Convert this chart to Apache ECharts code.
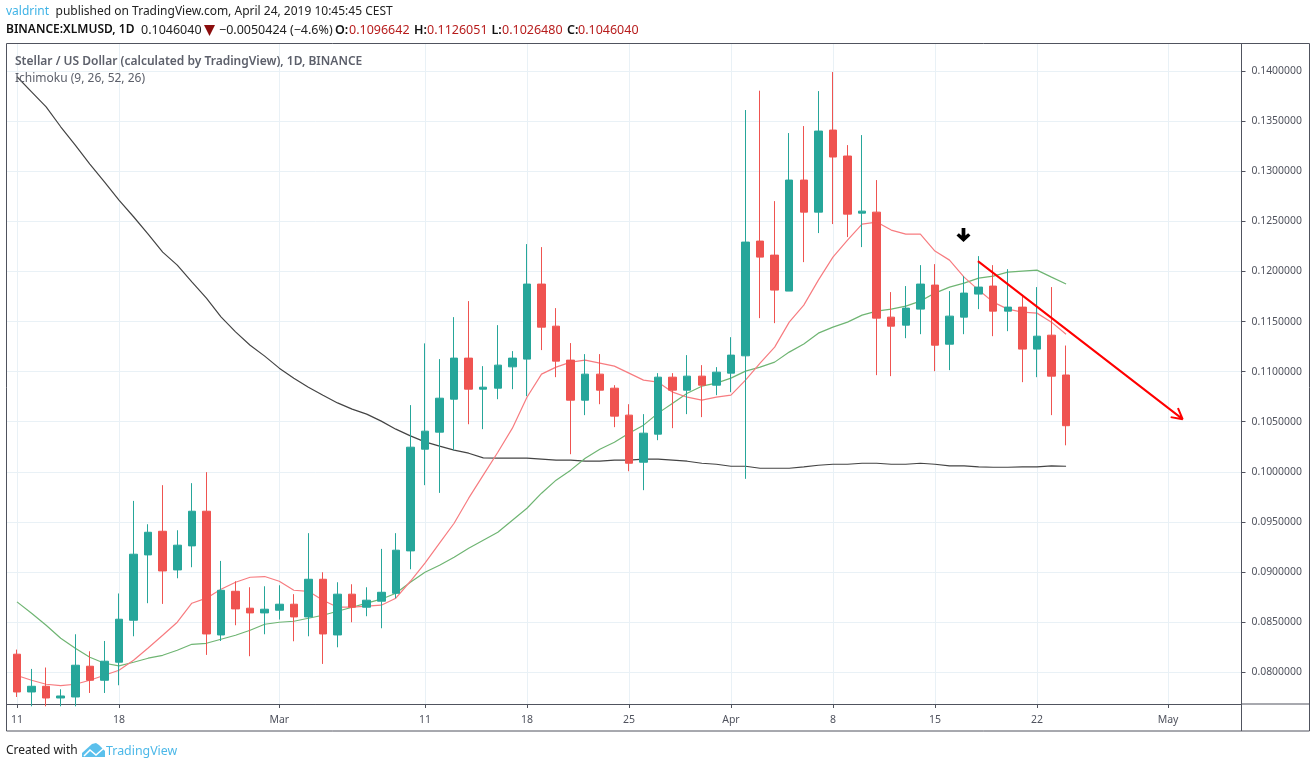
<!DOCTYPE html>
<html>
<head>
<meta charset="utf-8">
<title>XLMUSD</title>
<script src="https://cdn.jsdelivr.net/npm/echarts@6/dist/echarts.min.js"></script>
<style>
html,body{margin:0;padding:0;background:#fff;}
#chart{width:1316px;height:768px;}
</style>
</head>
<body>
<div id="chart"></div>
<script>
// x values are days counted from Feb 11 (day 0)
var xTickDays = [0, 7, 18, 28, 35, 42, 49, 56, 63, 70, 79];
var xTickLabels = ['11', '18', 'Mar', '11', '18', '25', 'Apr', '8', '15', '22', 'May'];
var yTicks = [0.08, 0.085, 0.09, 0.095, 0.1, 0.105, 0.11, 0.115, 0.12, 0.125, 0.13, 0.135, 0.14];

var opens = [.08180,.07803,.07860,.07743,.07753,.08060,.07920,.08100,.08519,.09171,.09407,.09021,.09261,.09607,.08372,.08808,.08639,.08592,.08619,.08679,.08552,.08928,.08372,.08779,.08649,.08709,.08788,.09211,.10226,.10396,.10725,.11135,.10825,.10835,.11048,.11125,.11874,.11454,.11115,.10715,.10975,.10835,.10566,.10096,.10376,.10945,.10815,.10955,.10865,.10985,.11158,.12303,.12163,.11804,.12912,.12592,.13411,.13152,.12582,.12592,.11544,.11464,.11624,.11864,.11274,.11544,.11774,.11854,.11604,.11644,.11225,.11364,.1096642];
var closes = [.07803,.07860,.07743,.07763,.08070,.07920,.08110,.08529,.09178,.09397,.09011,.09268,.09607,.08382,.08818,.08632,.08592,.08629,.08679,.08552,.08928,.08382,.08779,.08649,.08719,.08798,.09218,.10246,.10406,.10735,.11135,.10825,.10845,.11065,.11135,.11874,.11444,.11105,.10715,.10975,.10815,.10556,.10086,.10386,.10945,.10815,.10955,.10865,.10995,.11165,.12293,.12143,.11814,.12912,.12592,.13401,.13142,.12572,.12602,.11534,.11454,.11634,.11874,.11264,.11554,.11784,.11844,.11604,.11644,.11225,.11354,.10955,.104604];
var lows = [.07753,.07660,.07660,.07660,.07660,.07793,.07793,.07870,.08359,.08689,.08682,.08938,.09048,.08173,.08312,.08469,.08160,.08379,.08526,.08309,.08359,.08083,.08249,.08499,.08559,.08439,.08739,.09028,.09867,.09790,.10216,.10475,.10426,.10725,.10825,.10755,.11215,.10945,.10176,.10566,.10675,.10446,.10006,.09817,.10316,.10436,.10576,.10546,.10765,.10795,.09930,.11534,.11484,.11804,.12093,.12383,.12473,.12343,.12243,.10965,.10955,.11334,.11374,.11005,.11015,.11374,.11624,.11354,.11404,.10895,.10945,.10566,.102648];
var highs = [.08226,.08033,.08047,.07830,.08379,.08209,.08312,.08786,.09710,.09477,.09867,.09417,.09887,.09997,.09111,.08908,.08848,.08858,.08868,.08779,.09388,.08998,.08898,.08878,.08848,.09231,.09388,.10666,.11282,.11125,.11544,.11704,.11055,.11464,.11205,.12273,.12243,.11634,.11285,.11175,.11175,.10865,.10675,.10576,.10985,.10985,.11165,.11065,.11045,.11344,.13611,.13804,.12702,.13381,.13451,.13800,.13990,.13261,.13361,.12912,.11794,.11854,.12063,.12073,.11804,.11953,.12153,.12063,.12023,.11754,.11844,.11844,.1126051];

var conversionLine = [.07967,.07920,.07880,.07867,.07880,.07920,.07970,.08020,.08120,.08242,.08369,.08499,.08689,.08739,.08828,.08898,.08948,.08955,.08908,.08818,.08808,.08719,.08649,.08649,.08659,.08669,.08739,.08908,.09088,.09288,.09487,.09737,.09967,.10196,.10436,.10745,.10975,.11045,.11095,.11115,.11085,.11055,.10985,.10915,.10895,.10795,.10745,.10715,.10745,.10765,.10915,.11085,.11245,.11494,.11664,.11913,.12143,.12313,.12473,.12493,.12413,.12373,.12373,.12203,.12113,.11943,.11814,.11694,.11624,.11594,.11584,.11494,.11374];
var baseLine = [.08702,.08589,.08469,.08339,.08239,.08149,.08090,.08063,.08100,.08140,.08169,.08219,.08279,.08289,.08329,.08369,.08419,.08479,.08499,.08509,.08539,.08569,.08609,.08649,.08689,.08729,.08788,.08898,.08998,.09068,.09148,.09238,.09318,.09397,.09517,.09637,.09787,.09917,.10017,.10136,.10226,.10296,.10386,.10466,.10586,.10685,.10785,.10855,.10885,.10935,.11005,.11045,.11095,.11195,.11275,.11384,.11444,.11494,.11564,.11604,.11624,.11654,.11704,.11784,.11844,.11884,.11933,.11953,.11993,.12003,.12013,.11943,.11874];
var laggingLine = [.13943,.13793,.13643,.13444,.13261,.13072,.12895,.12712,.12546,.12373,.12193,.12063,.11896,.11734,.11547,.11397,.11264,.11155,.11035,.10935,.10845,.10765,.10688,.10626,.10576,.10506,.10426,.10359,.10299,.10256,.10216,.10186,.10139,.10136,.10136,.10136,.10126,.10116,.10116,.10106,.10106,.10116,.10116,.10126,.10126,.10116,.10106,.10086,.10076,.10056,.10056,.10036,.10036,.10036,.10049,.10066,.10076,.10076,.10086,.10086,.10076,.10076,.10086,.10076,.10059,.10059,.10049,.10046,.10046,.10049,.10049,.10059,.10056];

var trendArrowX = [65.95, 80.0, 79.68, 80.0, 79.18];
var trendArrowY = [.12103, .10526, .10636, .10526, .10546];
var downMarker = [64.96, .12363];

var headerLine1 = 'published on TradingView.com, April 24, 2019 10:45:45 CEST';
var symbolTitle = 'Stellar / US Dollar (calculated by TradingView), 1D, BINANCE';
var indicatorTitle = 'Ichimoku (9, 26, 52, 26)';

function zip(xs, ys) {
  return xs.map(function (x, i) { return [x, ys[i]]; });
}
function byDay(ys) {
  return ys.map(function (y, i) { return [i, y]; });
}
var candles = opens.map(function (o, i) { return [i, o, closes[i], lows[i], highs[i]]; });

var AXIS = '#50535e', GRID = '#e9f1f6', UP = '#26a69a', DOWN = '#ef5350', FONT = '"Noto Sans", sans-serif';

function label(x, y, text, size, color, weight) {
  return { type: 'text', x: x, y: y + 1, silent: true, z: 20,
    style: { text: text, fill: color, font: (weight || 'normal') + ' ' + size + 'px ' + FONT, textVerticalAlign: 'middle' } };
}
function rule(x1, y1, x2, y2) {
  return { type: 'line', silent: true, z: 15, shape: { x1: x1, y1: y1, x2: x2, y2: y2 }, style: { stroke: AXIS, lineWidth: 1 } };
}

var chart = echarts.init(document.getElementById('chart'));
chart.setOption({
  animation: false,
  backgroundColor: '#fff',
  grid: { left: 6.5, right: 74.5, top: 43.5, bottom: 64 },
  xAxis: {
    type: 'value', min: -0.72, max: 84.04,
    axisLine: { onZero: false, lineStyle: { color: AXIS } },
    axisTick: { customValues: xTickDays, length: 4, lineStyle: { color: AXIS } },
    axisLabel: {
      customValues: xTickDays, margin: 11, color: '#50535e', fontFamily: FONT, fontSize: 10.5,
      formatter: function (v) { return xTickLabels[xTickDays.indexOf(v)]; }
    },
    splitLine: { show: true, lineStyle: { color: GRID } }
  },
  yAxis: {
    type: 'value', position: 'right', min: 0.07683, max: 0.14275,
    axisLine: { show: true, onZero: false, lineStyle: { color: AXIS } },
    axisTick: { show: true, customValues: yTicks, length: 4, lineStyle: { color: AXIS } },
    axisLabel: {
      customValues: yTicks, margin: 10, color: '#50535e', fontFamily: FONT, fontSize: 10.4, padding: [2, 0, 0, 0],
      formatter: function (v) { return v.toFixed(7); }
    },
    splitLine: { show: true, lineStyle: { color: GRID } }
  },
  series: [
    { type: 'line', z: 2, data: byDay(laggingLine), showSymbol: false, lineStyle: { color: '#444', width: 1.2 } },
    { type: 'line', z: 2, data: byDay(baseLine), showSymbol: false, lineStyle: { color: '#6fb573', width: 1.2 } },
    { type: 'line', z: 2, data: byDay(conversionLine), showSymbol: false, lineStyle: { color: '#f77c80', width: 1.2 } },
    {
      type: 'candlestick', z: 3, data: candles, barWidth: 8,
      encode: { x: 0, y: [1, 2, 3, 4] },
      itemStyle: { color: UP, color0: DOWN, borderColor: UP, borderColor0: DOWN, borderWidth: 1 }
    },
    { type: 'line', z: 4, data: zip(trendArrowX, trendArrowY), showSymbol: false, lineStyle: { color: '#ff0000', width: 2 } },
    {
      type: 'scatter', z: 4, data: [downMarker], symbolSize: [14, 14],
      symbol: 'path://M6 0H10V8L13 5.5 15.5 8 8 15 0.5 8 3 5.5 6 8Z',
      itemStyle: { color: '#000', opacity: 1 }
    }
  ],
  graphic: [
    { type: 'rect', silent: true, z: 15, shape: { x: 6.5, y: 43.5, width: 1303, height: 687.5 }, style: { fill: 'none', stroke: AXIS, lineWidth: 1 } },
    rule(1241.5, 704, 1241.5, 731),
    rule(1241.5, 704, 1310, 704),
    label(6, 11, 'valdrint', 12, '#3fb3e6'),
    label(55.5, 11, headerLine1, 12, '#222'),
    label(6, 29, 'BINANCE:XLMUSD, 1D', 12, '#111', '600'),
    label(141, 29, '0.1046040', 12.5, '#222'),
    { type: 'polygon', silent: true, z: 20, shape: { points: [[204, 25], [215, 25], [209.5, 36]] }, style: { fill: '#8b0d0d' } },
    label(219, 29, '\u22120.0050424 (\u22124.6%)', 12.5, '#222'),
    label(335, 29, 'O:', 12.5, '#111', '600'),
    label(349, 29, '0.1096642', 12.5, '#b71c1c'),
    label(414, 29, 'H:', 12.5, '#111', '600'),
    label(427, 29, '0.1126051', 12.5, '#b71c1c'),
    label(491.5, 29, 'L:', 12.5, '#111', '600'),
    label(502, 29, '0.1026480', 12.5, '#b71c1c'),
    label(567, 29, 'C:', 12.5, '#111', '600'),
    label(578, 29, '0.1046040', 12.5, '#b71c1c'),
    label(15, 61, symbolTitle, 12, '#5d606b', '600'),
    label(15, 78, indicatorTitle, 12, '#5d606b'),
    label(6, 750, 'Created with', 12, '#222'),
    { type: 'polygon', silent: true, z: 20, shape: { points: [[82, 757], [82, 753], [92, 744], [96, 743], [99, 745], [105, 751], [105, 757]] }, style: { fill: '#5bc0ec' } },
    { type: 'polyline', silent: true, z: 21, shape: { points: [[84, 756], [90, 750], [96, 755], [104, 748]] }, style: { fill: 'none', stroke: '#fff', lineWidth: 1.6 } },
    label(106, 750, 'TradingView', 12.4, '#4cb8e8')
  ]
});
</script>
</body>
</html>
